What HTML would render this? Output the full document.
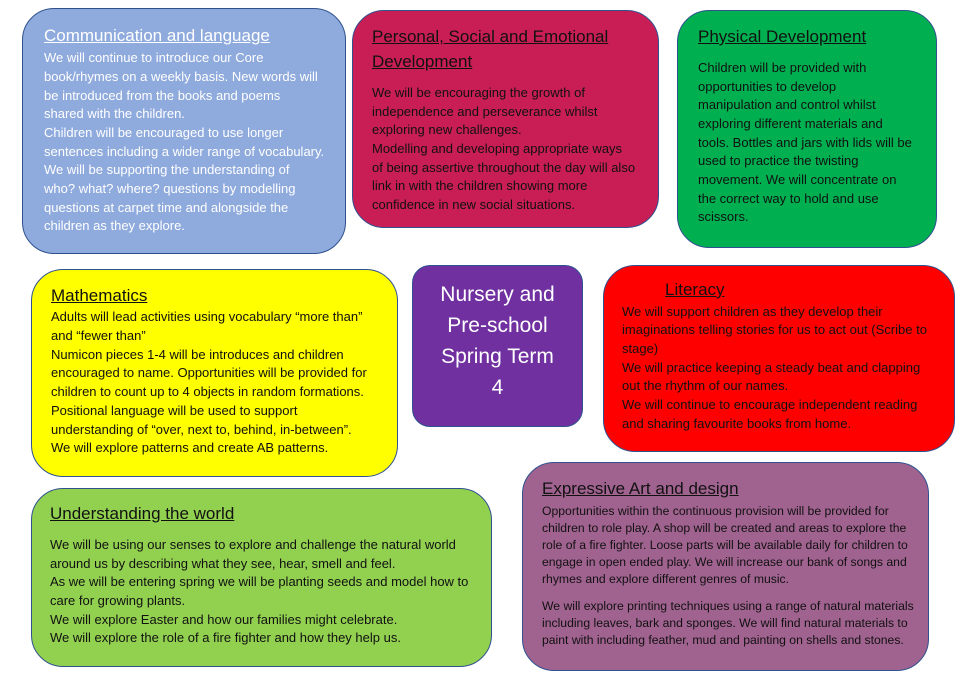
<!DOCTYPE html>
<html><head><meta charset="utf-8"><style>
body{margin:0;width:962px;height:682px;background:#fff;position:relative;overflow:hidden;font-family:"Liberation Sans",sans-serif}
.b{position:absolute;border:1.3px solid #2f528f;border-radius:32px;box-sizing:border-box}
.t{position:absolute;white-space:nowrap;font-size:13px;line-height:16px;letter-spacing:0px}
.h{position:absolute;white-space:nowrap;font-size:17px;line-height:20px;text-decoration:underline}
.w{color:#fff}.k{color:#111}
.e .t{font-size:12.2px}
</style></head><body>
<div class="b" style="left:22px;top:8px;width:324px;height:246px;background:#8faadc"></div>
<div class="b" style="left:352px;top:10px;width:307px;height:218px;background:#c91e55"></div>
<div class="b" style="left:677px;top:10px;width:260px;height:238px;background:#00b050"></div>
<div class="b" style="left:31px;top:269px;width:367px;height:208px;background:#ffff00"></div>
<div class="b" style="left:412px;top:265px;width:171px;height:162px;background:#7030a0;border-radius:18px"></div>
<div class="b" style="left:603px;top:265px;width:352px;height:187px;background:#ff0000"></div>
<div class="b" style="left:31px;top:488px;width:461px;height:179px;background:#92d050"></div>
<div class="b" style="left:522px;top:462px;width:407px;height:209px;background:#a0628f"></div>

<div class="w">
<div class="h" style="left:44px;top:26px">Communication and language</div>
<div class="t" style="left:44px;top:50px">We will continue to introduce our Core</div>
<div class="t" style="left:44px;top:69px">book/rhymes on a weekly basis. New words will</div>
<div class="t" style="left:44px;top:88px">be introduced from the books and poems</div>
<div class="t" style="left:44px;top:106px">shared with the children.</div>
<div class="t" style="left:44px;top:125px">Children will be encouraged to use longer</div>
<div class="t" style="left:44px;top:144px">sentences including a wider range of vocabulary.</div>
<div class="t" style="left:44px;top:162px">We will be supporting the understanding of</div>
<div class="t" style="left:44px;top:181px">who? what? where? questions by modelling</div>
<div class="t" style="left:44px;top:200px">questions at carpet time and alongside the</div>
<div class="t" style="left:44px;top:218px">children as they explore.</div>
</div>

<div class="k">
<div class="h" style="left:372px;top:27px">Personal, Social and Emotional</div>
<div class="h" style="left:372px;top:52px">Development</div>
<div class="t" style="left:372px;top:85px">We will be encouraging the growth of</div>
<div class="t" style="left:372px;top:104px">independence and perseverance whilst</div>
<div class="t" style="left:372px;top:122px">exploring new challenges.</div>
<div class="t" style="left:372px;top:141px">Modelling and developing appropriate ways</div>
<div class="t" style="left:372px;top:160px">of being assertive throughout the day will also</div>
<div class="t" style="left:372px;top:178px">link in with the children showing more</div>
<div class="t" style="left:372px;top:197px">confidence in new social situations.</div>

<div class="h" style="left:698px;top:27px">Physical Development</div>
<div class="t" style="left:698px;top:60px">Children will be provided with</div>
<div class="t" style="left:698px;top:79px">opportunities to develop</div>
<div class="t" style="left:698px;top:97px">manipulation and control whilst</div>
<div class="t" style="left:698px;top:116px">exploring different materials and</div>
<div class="t" style="left:698px;top:135px">tools. Bottles and jars with lids will be</div>
<div class="t" style="left:698px;top:153px">used to practice the twisting</div>
<div class="t" style="left:698px;top:172px">movement. We will concentrate on</div>
<div class="t" style="left:698px;top:191px">the correct way to hold and use</div>
<div class="t" style="left:698px;top:209px">scissors.</div>

<div class="h" style="left:51px;top:286px">Mathematics</div>
<div class="t" style="left:51px;top:309px">Adults will lead activities using vocabulary “more than”</div>
<div class="t" style="left:51px;top:328px">and “fewer than”</div>
<div class="t" style="left:51px;top:347px">Numicon pieces 1-4 will be introduces and children</div>
<div class="t" style="left:51px;top:365px">encouraged to name. Opportunities will be provided for</div>
<div class="t" style="left:51px;top:384px">children to count up to 4 objects in random formations.</div>
<div class="t" style="left:51px;top:403px">Positional language will be used to support</div>
<div class="t" style="left:51px;top:422px">understanding of “over, next to, behind, in-between”.</div>
<div class="t" style="left:51px;top:440px">We will explore patterns and create AB patterns.</div>

<div class="h" style="left:665px;top:280px">Literacy</div>
<div class="t" style="left:622px;top:304px">We will support children as they develop their</div>
<div class="t" style="left:622px;top:322px">imaginations telling stories for us to act out (Scribe to</div>
<div class="t" style="left:622px;top:341px">stage)</div>
<div class="t" style="left:622px;top:360px">We will practice keeping a steady beat and clapping</div>
<div class="t" style="left:622px;top:378px">out the rhythm of our names.</div>
<div class="t" style="left:622px;top:397px">We will continue to encourage independent reading</div>
<div class="t" style="left:622px;top:416px">and sharing favourite books from home.</div>

<div class="h" style="left:50px;top:504px">Understanding the world</div>
<div class="t" style="left:50px;top:537px">We will be using our senses to explore and challenge the natural world</div>
<div class="t" style="left:50px;top:556px">around us by describing what they see, hear, smell and feel.</div>
<div class="t" style="left:50px;top:574px">As we will be entering spring we will be planting seeds and model how to</div>
<div class="t" style="left:50px;top:593px">care for growing plants.</div>
<div class="t" style="left:50px;top:612px">We will explore Easter and how our families might celebrate.</div>
<div class="t" style="left:50px;top:630px">We will explore the role of a fire fighter and how they help us.</div>

<div class="e">
<div class="h" style="left:542px;top:479px">Expressive Art and design</div>
<div class="t" style="left:542px;top:503px">Opportunities within the continuous provision will be provided for</div>
<div class="t" style="left:542px;top:520px">children to role play. A shop will be created and areas to explore the</div>
<div class="t" style="left:542px;top:537px">role of a fire fighter. Loose parts will be available daily for children to</div>
<div class="t" style="left:542px;top:554px">engage in open ended play. We will increase our bank of songs and</div>
<div class="t" style="left:542px;top:571px">rhymes and explore different genres of music.</div>
<div class="t" style="left:542px;top:598px">We will explore printing techniques using a range of natural materials</div>
<div class="t" style="left:542px;top:615px">including leaves, bark and sponges. We will find natural materials to</div>
<div class="t" style="left:542px;top:632px">paint with including feather, mud and painting on shells and stones.</div>
</div>
</div>

<div style="position:absolute;left:412px;top:279px;width:171px;text-align:center;color:#fff;font-size:21px;line-height:31px">Nursery and<br>Pre-school<br>Spring Term<br>4</div>
</body></html>
